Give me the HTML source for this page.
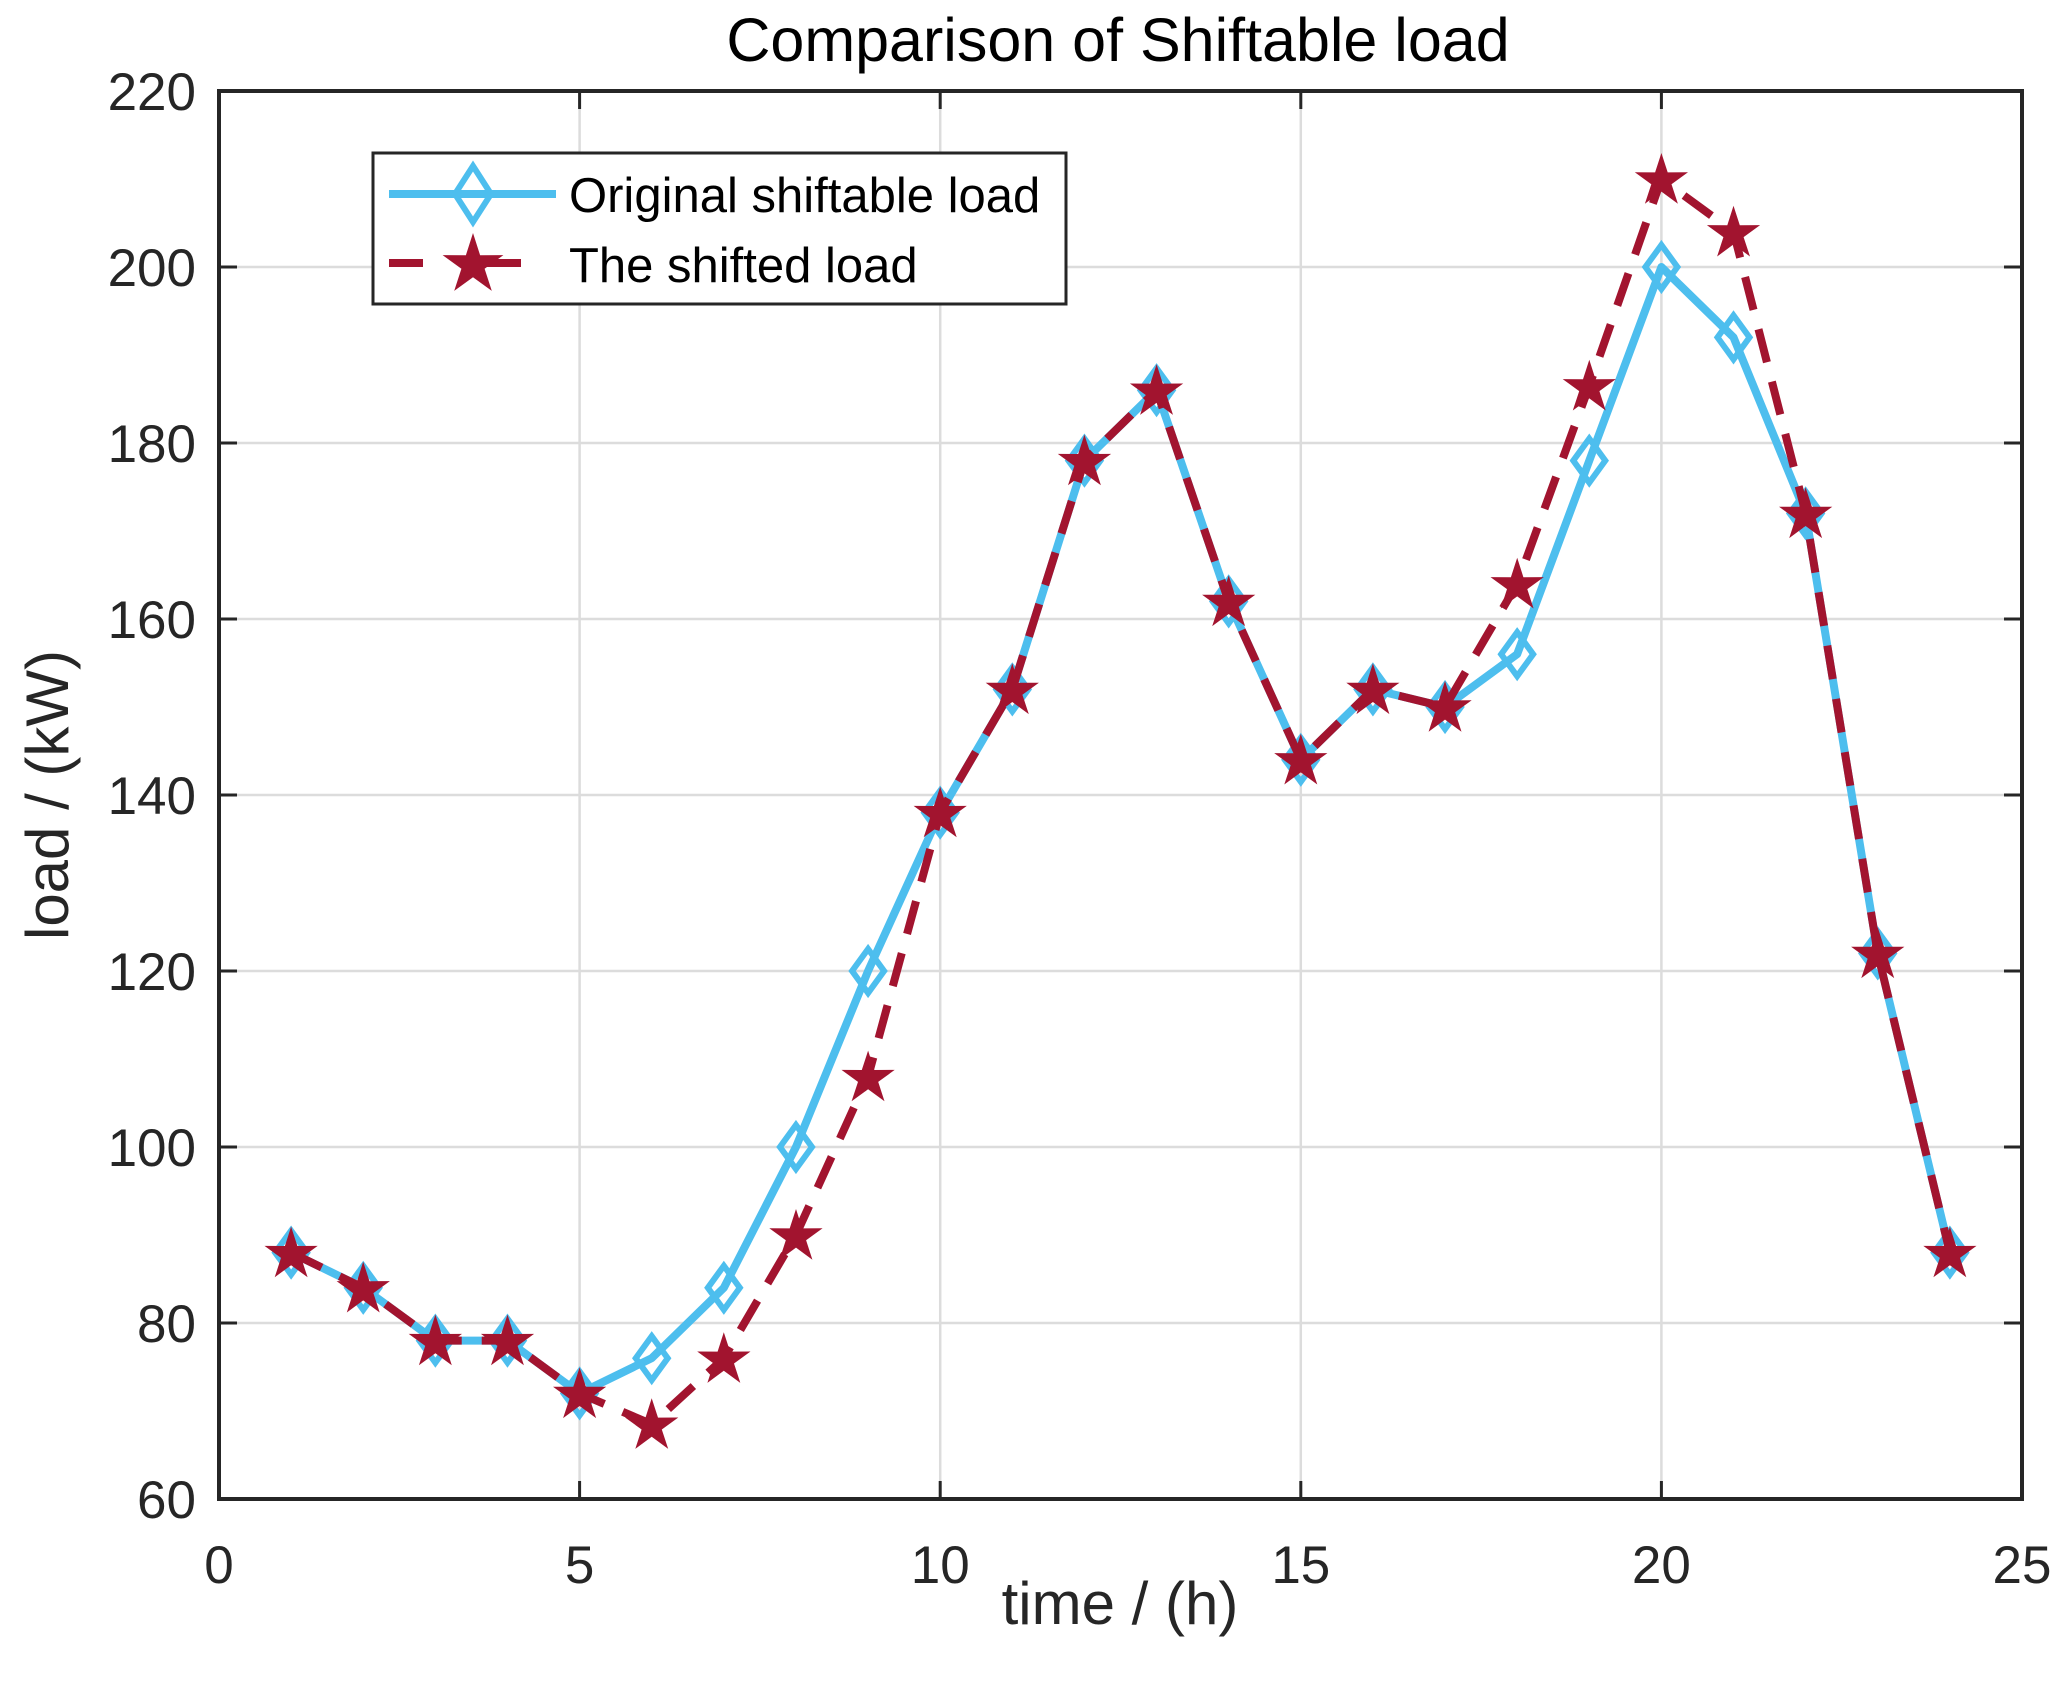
<!DOCTYPE html>
<html><head><meta charset="utf-8"><style>
html,body{margin:0;padding:0;background:#fff;}
svg text{font-family:"Liberation Sans",Arial,sans-serif;fill:#262626;}
</style></head><body>
<svg id="chart" width="2068" height="1685" viewBox="0 0 2068 1685" xmlns="http://www.w3.org/2000/svg">
<rect width="2068" height="1685" fill="#fff"/>
<g id="grid"></g>
<g id="series"></g>
<rect x="219" y="91" width="1803" height="1408" fill="none" stroke="#262626" stroke-width="4"/>
<g id="ticks"></g>
<text x="1118" y="61" font-size="61" text-anchor="middle" style="fill:#000">Comparison of Shiftable load</text>
<text x="1120" y="1624" font-size="60" text-anchor="middle">time / (h)</text>
<text transform="translate(68,795) rotate(-90)" font-size="60" text-anchor="middle">load / (kW)</text>
<g>
<rect x="373" y="153" width="693" height="151" fill="#fff" stroke="#262626" stroke-width="3"/>
<g>
<line x1="389" y1="194" x2="556" y2="194" stroke="#4DBEEE" stroke-width="8"/>
<polygon points="473,166 491,194 473,222 455,194" fill="none" stroke="#4DBEEE" stroke-width="6"/>
<text x="569" y="212" font-size="49" style="fill:#000">Original shiftable load</text>
</g>
<g>
<line x1="389" y1="263" x2="556" y2="263" stroke="#A2142F" stroke-width="8" stroke-dasharray="34,64"/>
<polygon id="legstar" fill="#A2142F"/>
<text x="569" y="282" font-size="49" style="fill:#000">The shifted load</text>
</g>
</g>
</svg>
<script>
const hours = [1,2,3,4,5,6,7,8,9,10,11,12,13,14,15,16,17,18,19,20,21,22,23,24];
const originalLoad = [88,84,78,78,72,76,84,100,120,138,152,178,186,162,144,152,150,156,178,200,192,172,122,88];
const shiftedLoad = [88,84,78,78,72,68.5,76,90,108,138,152,178,186,162,144,152,150,164,186.5,210,204,172,122,88];
const xTicks = [0,5,10,15,20,25];
const yTicks = [60,80,100,120,140,160,180,200,220];

const X0=219,X1=2022,Y0=1499,Y1=91;
const sx=v=>X0+(v-0)/(25-0)*(X1-X0);
const sy=v=>Y0-(v-60)/(220-60)*(Y0-Y1);
const NS="http://www.w3.org/2000/svg";
function mk(tag,attrs,parent){const e=document.createElementNS(NS,tag);for(const k in attrs)e.setAttribute(k,attrs[k]);parent.appendChild(e);return e;}
function starPts(cx,cy,R){const r=R*0.38;let p=[];for(let i=0;i<10;i++){const a=-Math.PI/2+i*Math.PI/5;const rr=i%2?r:R;p.push((cx+rr*Math.cos(a)).toFixed(1)+","+(cy+rr*Math.sin(a)).toFixed(1));}return p.join(" ");}
document.getElementById('legstar').setAttribute('points',starPts(473,265,32));

const grid=document.getElementById('grid'),ticks=document.getElementById('ticks'),series=document.getElementById('series');
xTicks.forEach(t=>{
  const x=sx(t);
  const g=mk('line',{x1:x,x2:x,y1:Y1,y2:Y0,stroke:'#dcdcdc','stroke-width':2.5},grid);
  
  
  mk('line',{x1:x,x2:x,y1:Y0,y2:Y0-18,stroke:'#262626','stroke-width':3},ticks);
  mk('line',{x1:x,x2:x,y1:Y1,y2:Y1+18,stroke:'#262626','stroke-width':3},ticks);
  const tx=mk('text',{x:x,y:1583,'font-size':53,'text-anchor':'middle'},ticks);
  tx.textContent=t;
  
  
});
yTicks.forEach(t=>{
  const y=sy(t);
  const g=mk('line',{x1:X0,x2:X1,y1:y,y2:y,stroke:'#dcdcdc','stroke-width':2.5},grid);
  
  
  mk('line',{x1:X0,x2:X0+18,y1:y,y2:y,stroke:'#262626','stroke-width':3},ticks);
  mk('line',{x1:X1,x2:X1-18,y1:y,y2:y,stroke:'#262626','stroke-width':3},ticks);
  const tx=mk('text',{x:196,y:y+19,'font-size':53,'text-anchor':'end'},ticks);
  tx.textContent=t;
  
  
});
const p1=mk('polyline',{points:hours.map((h,i)=>sx(h)+","+sy(originalLoad[i])).join(" "),fill:'none',stroke:'#4DBEEE','stroke-width':8,'stroke-linejoin':'round'},series);


hours.forEach((h,i)=>{
  const x=sx(h),y=sy(originalLoad[i]);
  const d=mk('polygon',{points:`${x},${y-22} ${x+16},${y} ${x},${y+22} ${x-16},${y}`,fill:'none',stroke:'#4DBEEE','stroke-width':6},series);
  
  
});
const p2=mk('polyline',{points:hours.map((h,i)=>sx(h)+","+sy(shiftedLoad[i])).join(" "),fill:'none',stroke:'#A2142F','stroke-width':8,'stroke-dasharray':'34,20'},series);


hours.forEach((h,i)=>{
  const s=mk('polygon',{points:starPts(sx(h),sy(shiftedLoad[i])+2,28),fill:'#A2142F'},series);
  
  
});
</script>
</body></html>
